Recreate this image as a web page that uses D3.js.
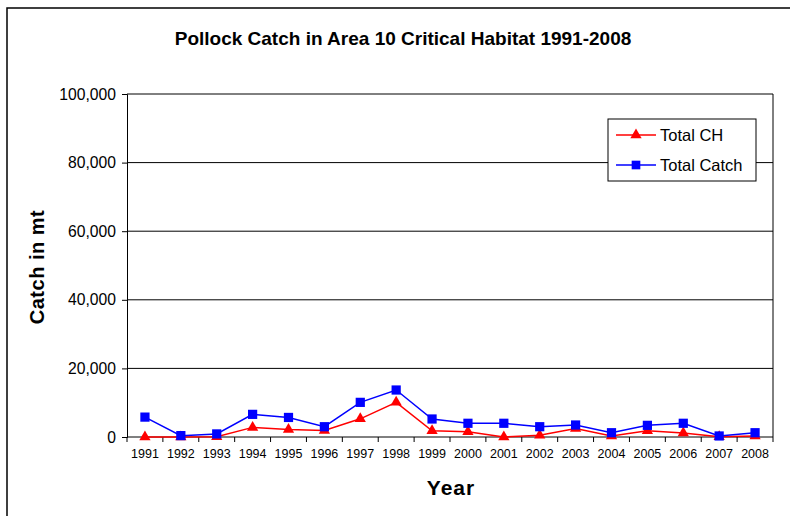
<!DOCTYPE html>
<html><head><meta charset="utf-8">
<script src="https://cdn.jsdelivr.net/npm/d3@7"></script>
<style>body{margin:0;background:#fff}svg{display:block;font-family:"Liberation Sans",Arial,sans-serif}</style>
</head><body><svg id="c" width="790" height="516"></svg>
<script>
const years = ["1991","1992","1993","1994","1995","1996","1997","1998","1999","2000","2001","2002","2003","2004","2005","2006","2007","2008"];
const totalCH = [0,0,100,2800,2200,1900,5300,10100,1800,1550,0,500,2500,300,1800,1150,100,300];
const totalCatch = [5800,400,900,6600,5700,3000,10100,13700,5250,4000,4000,3000,3500,1250,3400,4000,300,1250];
const yTicks = [0,20000,40000,60000,80000,100000];

const svg = d3.select("#c");
const L=127, R=773, T=94, B=437;
// outer frame
svg.append("rect").attr("x",7).attr("y",8).attr("width",800).attr("height",520)
  .attr("fill","none").attr("stroke","#000").attr("stroke-width",1.5);

const x = d3.scaleBand().domain(years).range([L,R]);
const y = d3.scaleLinear().domain([0,100000]).range([B,T]);

// gridlines
svg.append("g").selectAll("line").data(yTicks).join("line")
  .attr("x1",L).attr("x2",R).attr("y1",d=>y(d)).attr("y2",d=>y(d))
  .attr("stroke","#000").attr("stroke-width",1);
// right border
svg.append("line").attr("x1",R).attr("x2",R).attr("y1",T).attr("y2",B).attr("stroke","#000");

// y axis
const ya = svg.append("g").attr("transform",`translate(${L},0)`)
  .call(d3.axisLeft(y).tickValues(yTicks).tickFormat(d3.format(",")).tickSizeOuter(0).tickSize(5).tickPadding(6));
ya.select(".domain").attr("stroke","#000");
ya.selectAll("text").attr("font-size","15.7px").attr("fill","#000").attr("font-family","Liberation Sans, Arial");

// x axis
const xa = svg.append("g").attr("transform",`translate(0,${B})`)
  .call(d3.axisBottom(x).tickSize(0).tickPadding(12));
xa.select(".domain").remove();
xa.selectAll("text").attr("font-size","12.5px").attr("fill","#000").attr("font-family","Liberation Sans, Arial");
// boundary ticks
const bounds = years.map(d=>x(d)).concat([R]);
svg.append("g").selectAll("line").data(bounds).join("line")
  .attr("x1",d=>d).attr("x2",d=>d).attr("y1",B).attr("y2",B+5).attr("stroke","#000");

const cx = d=>x(d)+x.bandwidth()/2;
const line = d3.line();
function series(vals,color,sym,size){
  const pts = years.map((yr,i)=>[cx(yr),y(vals[i])]);
  svg.append("path").attr("d",line(pts)).attr("fill","none").attr("stroke",color).attr("stroke-width",1.5);
  svg.append("g").selectAll("path").data(pts).join("path")
    .attr("transform",d=>`translate(${d[0]},${d[1]})`)
    .attr("d",d3.symbol().type(sym).size(size)).attr("fill",color);
}
series(totalCH,"#ff0000",d3.symbolTriangle,55);
series(totalCatch,"#0000ff",d3.symbolSquare,85);

// title
svg.append("text").attr("x",403).attr("y",45).attr("text-anchor","middle")
  .attr("font-weight","bold").attr("font-size","19px").text("Pollock Catch in Area 10 Critical Habitat 1991-2008");
// axis titles
svg.append("text").attr("x",451).attr("y",495).attr("text-anchor","middle")
  .attr("font-weight","bold").attr("font-size","21px").attr("letter-spacing","1px").text("Year");
svg.append("text").attr("transform","translate(44,267) rotate(-90)").attr("text-anchor","middle")
  .attr("font-weight","bold").attr("font-size","20px").attr("letter-spacing","0.5px").text("Catch in mt");

// legend
const lg = svg.append("g");
lg.append("rect").attr("x",608).attr("y",119).attr("width",148).attr("height",62)
  .attr("fill","#fff").attr("stroke","#000");
const legendItems = [["Total CH","#ff0000",d3.symbolTriangle,55],["Total Catch","#0000ff",d3.symbolSquare,75]];
legendItems.forEach((it,i)=>{
  const yy = 135 + i*30;
  lg.append("line").attr("x1",616).attr("x2",656).attr("y1",yy).attr("y2",yy).attr("stroke",it[1]).attr("stroke-width",1.5);
  lg.append("path").attr("transform",`translate(636,${yy})`).attr("d",d3.symbol().type(it[2]).size(it[3])).attr("fill",it[1]);
  lg.append("text").attr("x",660).attr("y",yy+6).attr("font-size","16.5px").text(it[0]);
});
</script></body></html>
